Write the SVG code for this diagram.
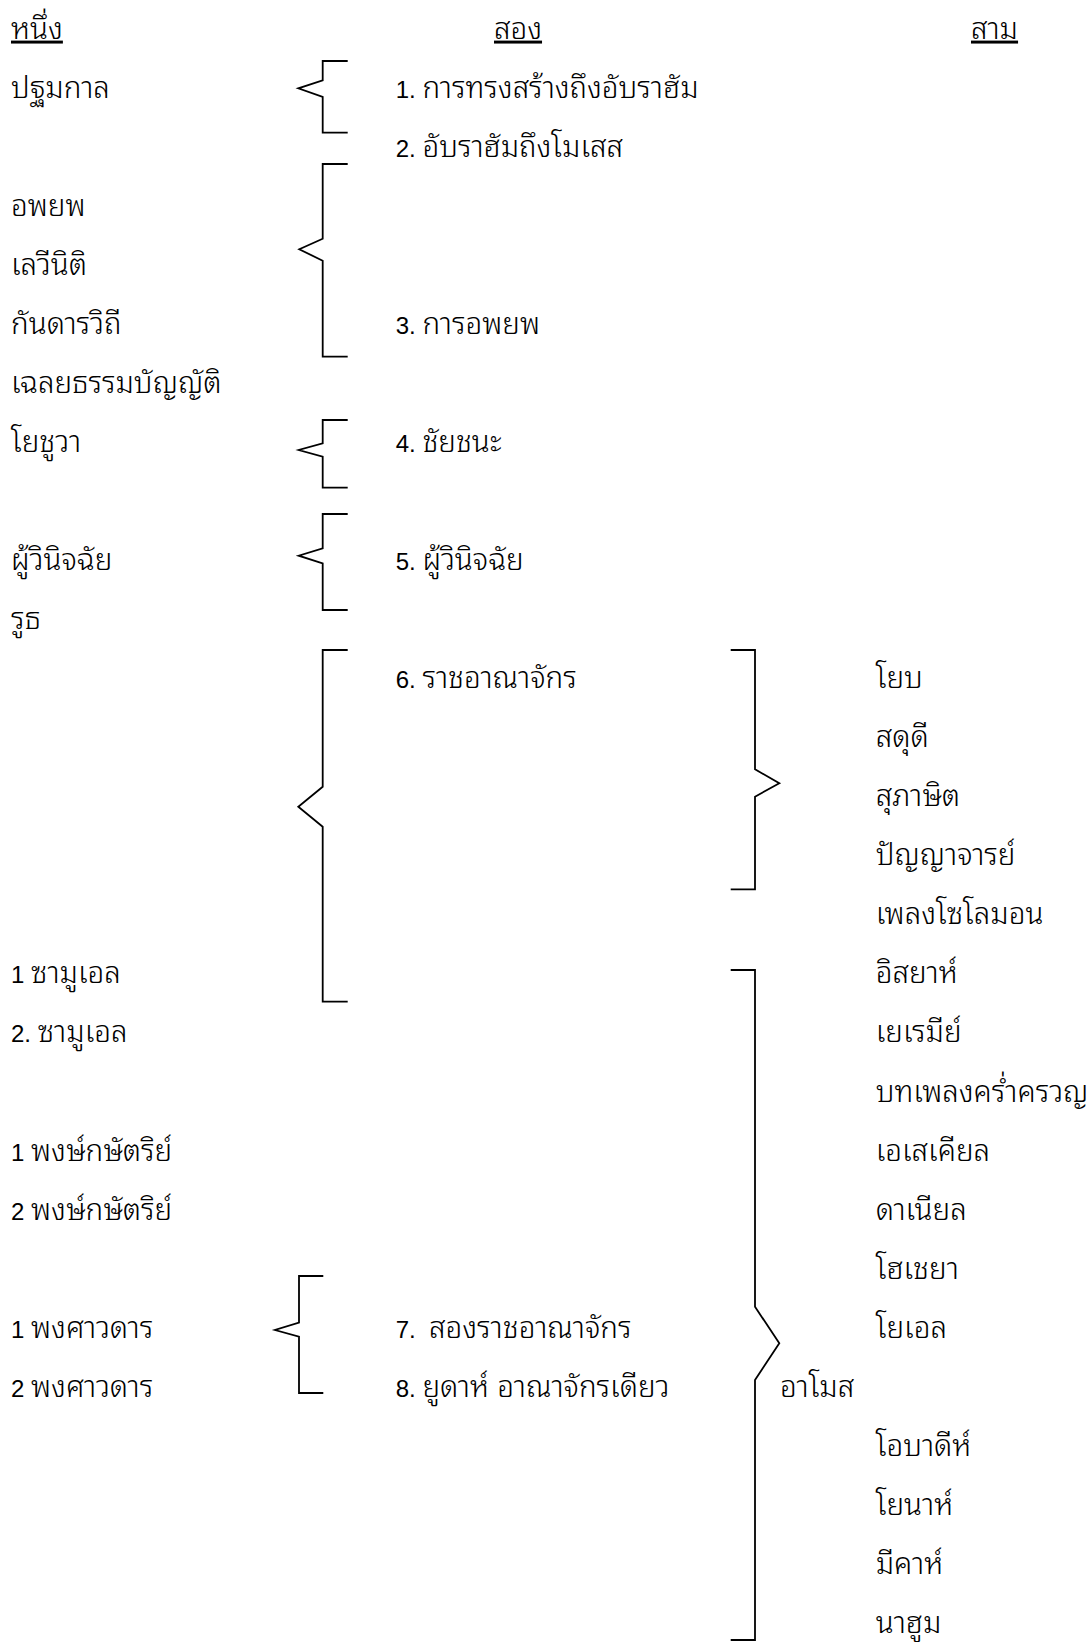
<svg xmlns="http://www.w3.org/2000/svg" width="1091" height="1642" viewBox="0 0 1091 1642">
<style>
text{font-family:"Liberation Sans","Noto Sans Thai Looped","Noto Serif Thai","Garuda","Loma","Norasi","Kinnari","Waree","Noto Sans Thai",sans-serif;font-size:29.6px;font-weight:300;fill:#000;white-space:pre}
.n{font-size:24px;font-weight:400}
.u{text-decoration:underline}
.br{fill:none;stroke:#000;stroke-width:1.8;stroke-linejoin:miter}
</style>
<rect width="1091" height="1642" fill="#fff"/>
<g id="headers">
<text class="u" x="11" y="38.6">หนึ่ง</text>
<text class="u" x="494" y="38.6">สอง</text>
<text class="u" x="971" y="38.6">สาม</text>
</g>
<g id="col1">
<text x="11" y="97.7">ปฐมกาล</text>
<text x="11" y="215.8">อพยพ</text>
<text x="11" y="274.8">เลวีนิติ</text>
<text x="11" y="333.9">กันดารวิถี</text>
<text x="11" y="392.9">เฉลยธรรมบัญญัติ</text>
<text x="11" y="452">โยชูวา</text>
<text x="11" y="570.1">ผู้วินิจฉัย</text>
<text x="11" y="629.1">รูธ</text>
<text x="11" y="983.4"><tspan class="n">1 </tspan>ซามูเอล</text>
<text x="11" y="1042.4"><tspan class="n">2. </tspan>ซามูเอล</text>
<text x="11" y="1160.5"><tspan class="n">1 </tspan>พงษ์กษัตริย์</text>
<text x="11" y="1219.6"><tspan class="n">2 </tspan>พงษ์กษัตริย์</text>
<text x="11" y="1337.7"><tspan class="n">1 </tspan>พงศาวดาร</text>
<text x="11" y="1396.8"><tspan class="n">2 </tspan>พงศาวดาร</text>
</g>
<g id="col2">
<text x="395.7" y="97.7"><tspan class="n">1. </tspan>การทรงสร้างถึงอับราฮัม</text>
<text x="395.7" y="156.7"><tspan class="n">2. </tspan>อับราฮัมถึงโมเสส</text>
<text x="395.7" y="333.9"><tspan class="n">3. </tspan>การอพยพ</text>
<text x="395.7" y="452"><tspan class="n">4. </tspan>ชัยชนะ</text>
<text x="395.7" y="570.1"><tspan class="n">5. </tspan>ผู้วินิจฉัย</text>
<text x="395.7" y="688.2"><tspan class="n">6. </tspan>ราชอาณาจักร</text>
<text x="395.7" y="1337.7"><tspan class="n">7.  </tspan>สองราชอาณาจักร</text>
<text x="395.7" y="1396.8"><tspan class="n">8. </tspan>ยูดาห์ อาณาจักรเดียว</text>
</g>
<g id="col3">
<text x="875.7" y="688.2">โยบ</text>
<text x="875.7" y="747.2">สดุดี</text>
<text x="875.7" y="806.3">สุภาษิต</text>
<text x="875.7" y="865.3">ปัญญาจารย์</text>
<text x="875.7" y="924.4">เพลงโซโลมอน</text>
<text x="875.7" y="983.4">อิสยาห์</text>
<text x="875.7" y="1042.4">เยเรมีย์</text>
<text x="875.7" y="1101.5">บทเพลงคร่ำครวญ</text>
<text x="875.7" y="1160.5">เอเสเคียล</text>
<text x="875.7" y="1219.6">ดาเนียล</text>
<text x="875.7" y="1278.7">โฮเชยา</text>
<text x="875.7" y="1337.7">โยเอล</text>
<text x="780" y="1396.8">อาโมส</text>
<text x="875.7" y="1455.8">โอบาดีห์</text>
<text x="875.7" y="1514.9">โยนาห์</text>
<text x="875.7" y="1573.9">มีคาห์</text>
<text x="875.7" y="1633">นาฮูม</text>
</g>
<g id="connectors">
<path id="b1" class="br" d="M347.7,61 H322.7 V80.3 L298.3,88.3 L322.7,97 V132.7 H347.7"/>
<path id="b2" class="br" d="M347.7,164 H322.7 V238.7 L299.3,249.3 L322.7,260.7 V356.7 H347.7"/>
<path id="b4" class="br" d="M347.7,420 H322.7 V443.3 L298.7,450 L322.7,456.7 V487.7 H347.7"/>
<path id="b5" class="br" d="M347.7,514 H322.7 V548.3 L298.7,555.7 L322.7,563.3 V610 H347.7"/>
<path id="b6" class="br" d="M347.7,650 H322.7 V786.7 L298.3,806.7 L322.7,826.7 V1001.7 H347.7"/>
<path id="b7" class="br" d="M323.3,1276 H299 V1322.7 L275,1330 L299,1336.7 V1393 H323.3"/>
<path id="r1" class="br" d="M730.7,650 H755 V769.3 L779.3,783.3 L755,796.7 V889.3 H730.7"/>
<path id="r2" class="br" d="M730.7,970 H755 V1306.7 L779.3,1343.3 L755,1380 V1640 H730.7"/>
</g>
</svg>
